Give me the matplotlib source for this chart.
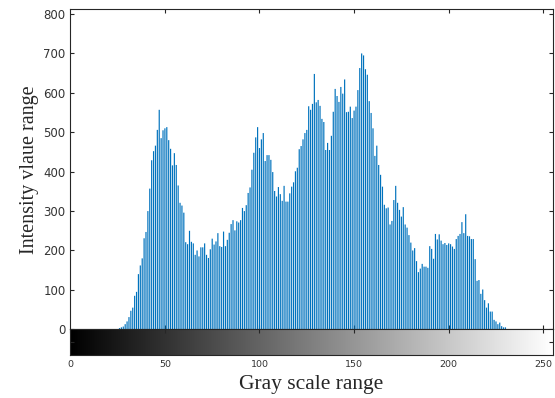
import numpy as np
import matplotlib
matplotlib.use('Agg')
import matplotlib.pyplot as plt

# Histogram counts of the gray levels (levels with no pixels are zero)
first_level = 26
counts = [
    3, 5, 7, 13, 20, 31, 47, 55, 85, 95,                # 26-35
    140, 162, 180, 231, 247, 300, 357, 429, 452, 466,   # 36-45
    506, 557, 485, 505, 510, 513, 480, 458, 416, 447,   # 46-55
    417, 365, 321, 314, 296, 221, 216, 250, 222, 218,   # 56-65
    189, 200, 185, 208, 208, 218, 189, 181, 203, 230,   # 66-75
    215, 223, 244, 211, 209, 248, 211, 227, 245, 267,   # 76-85
    277, 251, 274, 271, 277, 308, 300, 315, 346, 360,   # 86-95
    405, 448, 487, 513, 460, 482, 498, 427, 442, 442,   # 96-105
    430, 399, 351, 337, 361, 343, 326, 364, 324, 324,   # 106-115
    345, 362, 373, 401, 410, 457, 465, 482, 498, 506,   # 116-125
    566, 557, 572, 648, 576, 582, 567, 534, 526, 455,   # 126-135
    473, 455, 491, 552, 610, 592, 577, 615, 598, 634,   # 136-145
    551, 552, 565, 536, 555, 565, 607, 663, 700, 695,   # 146-155
    660, 646, 579, 549, 510, 440, 466, 417, 392, 362,   # 156-165
    316, 307, 309, 266, 275, 328, 364, 321, 303, 286,   # 166-175
    310, 266, 258, 239, 220, 200, 206, 173, 145, 154,   # 176-185
    166, 159, 159, 156, 211, 204, 179, 242, 228, 241,   # 186-195
    225, 216, 219, 214, 218, 216, 210, 204, 229, 237,   # 196-205
    242, 272, 244, 292, 237, 236, 229, 229, 178, 123,   # 206-215
    125, 90, 101, 74, 55, 66, 45, 45, 24, 20,           # 216-225
    13, 17, 8, 5, 5,                                     # 226-230
]
x_ticks = [0, 50, 100, 150, 200, 250]
y_ticks = [0, 100, 200, 300, 400, 500, 600, 700, 800]

levels = np.arange(256)
hist = np.zeros(256)
hist[first_level:first_level + len(counts)] = counts

plt.rcParams.update({
    'font.family': 'DejaVu Sans',
    'axes.linewidth': 0.8,
    'axes.edgecolor': '#262626',
    'xtick.color': '#262626',
    'ytick.color': '#262626',
    'xtick.labelcolor': '#333333',
    'ytick.labelcolor': '#333333',
    'xtick.labelsize': 6.8,
    'ytick.labelsize': 8.5,
    'xtick.direction': 'in',
    'ytick.direction': 'in',
    'xtick.major.size': 3,
    'ytick.major.size': 3,
})

fig = plt.figure(figsize=(5.55, 3.98), dpi=100)
ax = fig.add_axes([0.1267, 0.1726, 0.8692, 0.804])
cax = fig.add_axes([0.1267, 0.1073, 0.8692, 0.0653])

# stem lines, like imhist
ax.vlines(levels, 0, hist, color='#0072BD', linewidth=0.85, snap=False)
ax.set_xlim(0, 255)
ax.set_ylim(0, 812)
ax.set_xticks(x_ticks[1:])
ax.set_yticks(y_ticks)
ax.tick_params(top=True, right=True, labelbottom=False)
ax.set_ylabel('Intensity vlaue range', family='Liberation Serif', fontsize=14.5,
              color='#262626', labelpad=3)

# gray colour bar under the histogram
cax.imshow(levels.reshape(1, -1), cmap='gray', aspect='auto',
           extent=(0, 255, 0, 1), vmin=0, vmax=255)
cax.set_xlim(0, 255)
cax.set_ylim(0, 1)
cax.set_xticks(x_ticks)
cax.set_yticks([0.5])
cax.set_yticklabels([])
cax.tick_params(top=True, bottom=False, labelbottom=True, right=True)
cax.set_xlabel('Gray scale range', family='Liberation Serif', fontsize=15.5,
               color='#262626', labelpad=4)

plt.savefig('out.png', dpi=100)
